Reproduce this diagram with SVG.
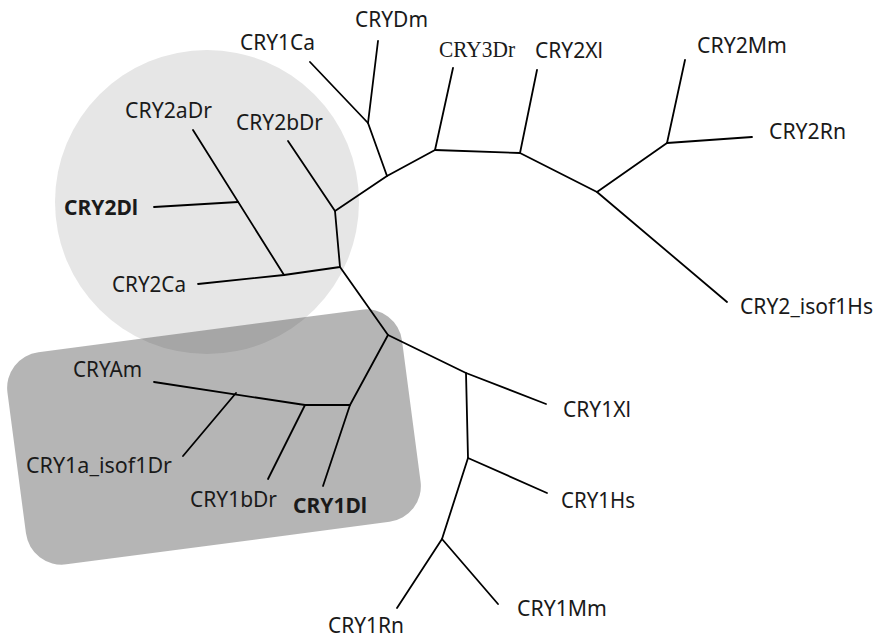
<svg xmlns="http://www.w3.org/2000/svg" width="879" height="639" viewBox="0 0 879 639">
<style>
.e{fill:none;stroke:#000;stroke-width:1.8;stroke-linecap:round;stroke-linejoin:round}
text{font-family:"Noto Sans","Open Sans","Liberation Sans",sans-serif;font-size:22px;fill:#1a1a1a}
.b{font-weight:bold}
.s{font-family:"Liberation Serif","DejaVu Serif",serif;font-size:23px}
</style>
<rect width="879" height="639" fill="#fff"/>
<g id="cry2-clade"><circle cx="207" cy="202" r="152" fill="#e6e6e6"/></g>
<g id="cry1-clade"><rect x="-199" y="-107" width="398" height="214" rx="36" ry="36" fill="#464646" fill-opacity="0.4" transform="translate(214,437) rotate(-7.5)"/></g>
<g id="connectors" class="e">
<path d="M310,62 L368,123 L387,176 L435,150 L520,153 L597,192 L667,143 L685,60"/>
<path d="M378,41 L368,123"/>
<path d="M435,150 L453,68"/>
<path d="M520,153 L537,70"/>
<path d="M667,143 L752,137"/>
<path d="M597,192 L727,302"/>
<path d="M387,176 L335,211 L288,141"/>
<path d="M335,211 L340,267 L284,275 L198,284"/>
<path d="M284,275 L193,130"/>
<path d="M238,202 L154,207"/>
<path d="M340,267 L388,335 L466,373 L546,404"/>
<path d="M466,373 L468,458 L547,493"/>
<path d="M468,458 L442,539 L397,608"/>
<path d="M442,539 L498,604"/>
<path d="M388,335 L350,405 L323,486"/>
<path d="M350,405 L305,405 L268,479"/>
<path d="M305,405 L154,382"/>
<path d="M236,393 L183,456"/>
</g>
<g id="CRY1Ca"><text x="240" y="50" textLength="75" lengthAdjust="spacingAndGlyphs">CRY1Ca</text></g>
<g id="CRYDm"><text x="355" y="27" textLength="73" lengthAdjust="spacingAndGlyphs">CRYDm</text></g>
<g id="CRY3Dr"><text class="s" x="439" y="57" textLength="76" lengthAdjust="spacingAndGlyphs">CRY3Dr</text></g>
<g id="CRY2Xl"><text x="535" y="58" textLength="68" lengthAdjust="spacingAndGlyphs">CRY2Xl</text></g>
<g id="CRY2Mm"><text x="697" y="53" textLength="90" lengthAdjust="spacingAndGlyphs">CRY2Mm</text></g>
<g id="CRY2Rn"><text x="769" y="139" textLength="77" lengthAdjust="spacingAndGlyphs">CRY2Rn</text></g>
<g id="CRY2_isof1Hs"><text x="740" y="314" textLength="133" lengthAdjust="spacingAndGlyphs">CRY2_isof1Hs</text></g>
<g id="CRY2aDr"><text x="125" y="118" textLength="87" lengthAdjust="spacingAndGlyphs">CRY2aDr</text></g>
<g id="CRY2bDr"><text x="236" y="130" textLength="87" lengthAdjust="spacingAndGlyphs">CRY2bDr</text></g>
<g id="CRY2Dl"><text class="b" x="64" y="215" textLength="74" lengthAdjust="spacingAndGlyphs">CRY2Dl</text></g>
<g id="CRY2Ca"><text x="112" y="292" textLength="74" lengthAdjust="spacingAndGlyphs">CRY2Ca</text></g>
<g id="CRYAm"><text x="73" y="377" textLength="69" lengthAdjust="spacingAndGlyphs">CRYAm</text></g>
<g id="CRY1a_isof1Dr"><text x="26" y="473" textLength="146" lengthAdjust="spacingAndGlyphs">CRY1a_isof1Dr</text></g>
<g id="CRY1bDr"><text x="190" y="507" textLength="87" lengthAdjust="spacingAndGlyphs">CRY1bDr</text></g>
<g id="CRY1Dl"><text class="b" x="293" y="513" textLength="74" lengthAdjust="spacingAndGlyphs">CRY1Dl</text></g>
<g id="CRY1Rn"><text x="328" y="633" textLength="76" lengthAdjust="spacingAndGlyphs">CRY1Rn</text></g>
<g id="CRY1Xl"><text x="563" y="417" textLength="68" lengthAdjust="spacingAndGlyphs">CRY1Xl</text></g>
<g id="CRY1Hs"><text x="561" y="508" textLength="74" lengthAdjust="spacingAndGlyphs">CRY1Hs</text></g>
<g id="CRY1Mm"><text x="517" y="616" textLength="90" lengthAdjust="spacingAndGlyphs">CRY1Mm</text></g>
</svg>
